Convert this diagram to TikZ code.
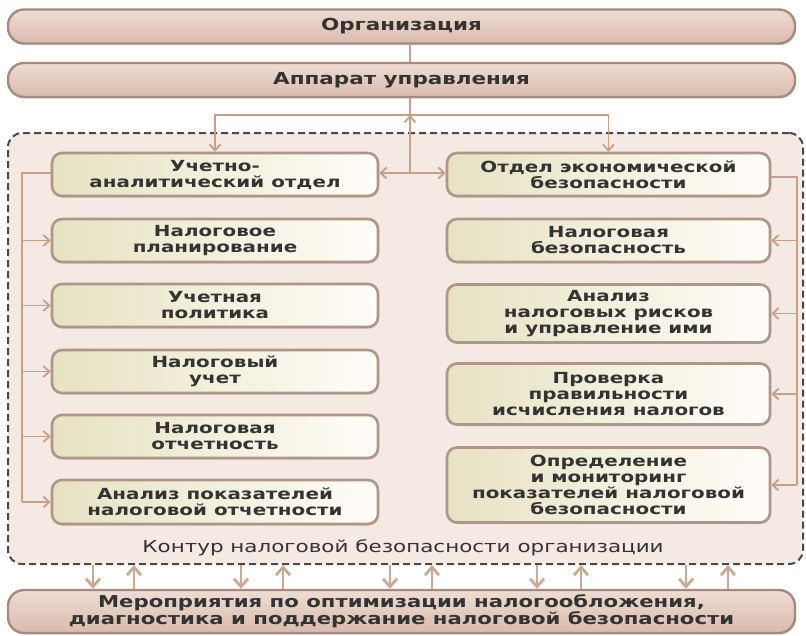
\documentclass[tikz,border=0pt]{standalone}
\usepackage{fontspec}
\setmainfont[FakeStretch=1.3]{DejaVu Sans}
\usetikzlibrary{arrows.meta,shadows}

\definecolor{pillTop}{HTML}{EEDCD2}
\definecolor{pillBot}{HTML}{D8BBAD}
\definecolor{pillEdge}{HTML}{A78A7C}
\definecolor{boxL}{HTML}{E6E2C2}
\definecolor{boxR}{HTML}{FFFDF8}
\definecolor{boxEdge}{HTML}{B09686}
\definecolor{zoneFill}{HTML}{F4E9E3}
\definecolor{zoneEdge}{HTML}{4A4A4A}
\definecolor{lnk}{HTML}{CB9E86}
\definecolor{txt}{HTML}{333333}

\tikzset{
  pill/.style={draw=pillEdge, line width=2.4pt, rounded corners=16pt,
    top color=pillTop, bottom color=pillBot, minimum width=787pt,
    align=center, text=txt, font=\fontsize{16.5}{16.5}\selectfont\bfseries,
    drop shadow={opacity=0.3, shadow xshift=1pt, shadow yshift=-1.5pt}},
  unit/.style={draw=boxEdge, line width=2.6pt, rounded corners=10pt,
    left color=boxL, right color=boxR, align=center, text=txt,
    font=\fontsize{15.3}{16}\selectfont\bfseries, inner sep=0pt,
    drop shadow={opacity=0.3, shadow xshift=1pt, shadow yshift=-1.5pt}},
  lcol/.style={unit, minimum width=326pt},
  rcol/.style={unit, minimum width=323pt},
  zone/.style={draw=zoneEdge, fill=zoneFill, line width=2pt,
    dash pattern=on 7pt off 4pt, rounded corners=14pt},
  link/.style={draw=lnk, line width=1.7pt},
  arr/.style={link, -{Straight Barb[length=6pt,width=11pt,line width=1.8pt]}},
  bigarr/.style={draw=lnk!90, line width=2.8pt, -{Straight Barb[length=8pt,width=14pt]}},
}

\begin{document}
\begin{tikzpicture}[x=1pt,y=-1pt]
\useasboundingbox (0,0) rectangle (806,635);

% outer contour of the tax safety system
\node[zone, minimum width=795pt, minimum height=431pt] (zone) at (405.5,348.5) {};
\node[text=txt, font=\fontsize{16.5}{16}\selectfont] (zonelbl) at (403,548)
  {Контур налоговой безопасности организации};

% top level
\node[pill, minimum height=34pt] (org) at (401.5,26.5) {Организация};
\node[pill, minimum height=34pt] (app) at (401.5,80) {Аппарат управления};

% left column
\node[lcol, minimum height=43pt] (uch)   at (215,174.5) {Учетно-\\аналитический отдел};
\node[lcol, minimum height=43pt] (nplan) at (215,240.5) {Налоговое\\планирование};
\node[lcol, minimum height=43pt] (upol)  at (215,305.5) {Учетная\\политика};
\node[lcol, minimum height=43pt] (nuch)  at (215,371.5) {Налоговый\\учет};
\node[lcol, minimum height=43pt] (notch) at (215,436.5) {Налоговая\\отчетность};
\node[lcol, minimum height=44pt] (anpok) at (215,502)   {Анализ показателей\\налоговой отчетности};

% right column
\node[rcol, minimum height=43pt] (otdel)  at (608.5,174.5) {Отдел экономической\\безопасности};
\node[rcol, minimum height=43pt] (nbez)   at (608.5,240.5) {Налоговая\\безопасность};
\node[rcol, minimum height=58pt] (anrisk) at (608.5,313.5) {Анализ\\налоговых рисков\\и управление ими};
\node[rcol, minimum height=61pt] (prov)   at (608.5,394)   {Проверка\\правильности\\исчисления налогов};
\node[rcol, minimum height=75pt] (opred)  at (608.5,485)   {Определение\\и мониторинг\\показателей налоговой\\безопасности};

% bottom
\node[pill, minimum height=43pt, font=\fontsize{16.3}{16}\selectfont\bfseries] (meas) at (401.5,611.5)
  {Мероприятия по оптимизации налогообложения,\\диагностика и поддержание налоговой безопасности};

% junction points
\coordinate (split) at (410,115);
\coordinate (hub)   at (410,173);
\coordinate (lbus)  at (22,173);
\coordinate (rbus)  at (797,177);

% management chain
\draw[link] (org.south -| split) -- (app.north -| split);
\draw[link] (app.south -| split) -- (split);
\draw[arr] (hub) -- (split);
\draw[arr] (split) -| (uch.north);
\draw[arr] (split) -| (otdel.north);
\draw[arr] (hub) -- (uch.east |- hub);
\draw[arr] (hub) -- (otdel.west |- hub);

% left bus
\draw[link] (uch.west |- lbus) -- (lbus) -- (lbus |- anpok.west);
\foreach \n in {nplan,upol,nuch,notch,anpok}
  \draw[arr] (lbus |- \n.west) -- (\n.west);

% right bus
\draw[link] (otdel.east |- rbus) -- (rbus) -- (rbus |- opred.east);
\foreach \n in {nbez,anrisk,prov,opred}
  \draw[arr] (rbus |- \n.east) -- (\n.east);

% exchange between the contour and the measures
\foreach \x in {93,241,390,537,686} {
  \coordinate (t) at (\x,0);
  \draw[bigarr] (zone.south -| t) -- (meas.north -| t);
}
\foreach \x in {134,283,432,581,728} {
  \coordinate (t) at (\x,0);
  \draw[bigarr] (meas.north -| t) -- (zone.south -| t);
}
\end{tikzpicture}
\end{document}
